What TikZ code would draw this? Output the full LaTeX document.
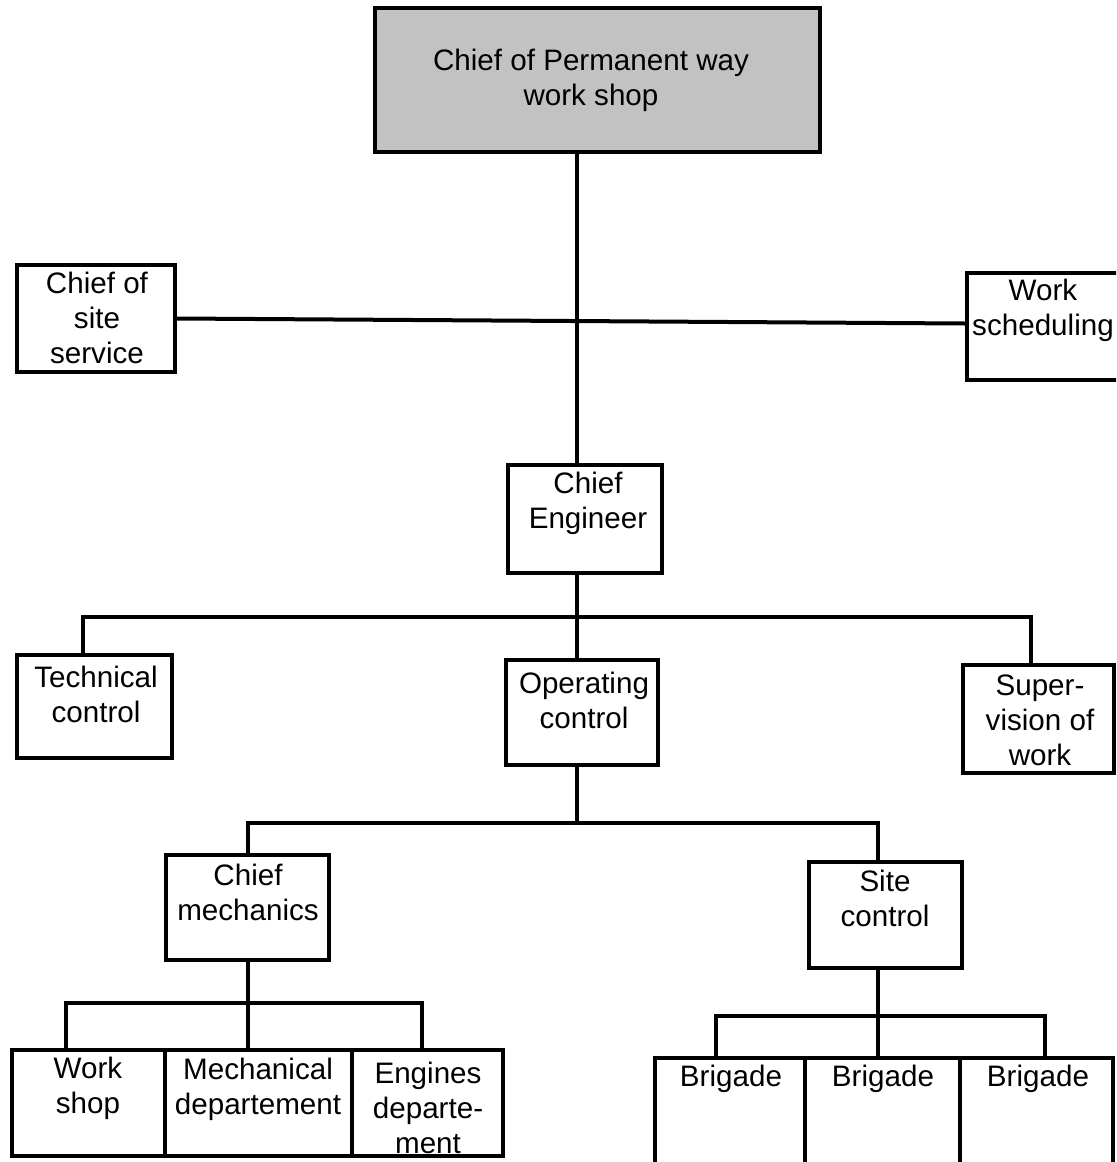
\documentclass[tikz,border=0pt]{standalone}
\usepackage{fontspec}
\setmainfont{Liberation Sans}
\begin{document}
\begin{tikzpicture}[x=0.5pt,y=-0.5pt,
  box/.style={draw, line width=2pt, inner sep=0pt},
  txt/.style={align=center, inner sep=0pt, font=\fontsize{14.8}{17.5}\selectfont},
  wire/.style={line width=2pt}]
% box from its corners: name, left, top, right, bottom (pixel units)
\newcommand\orgbox[6][]{%
  \node[box, #1, minimum width={(#5-#3)*0.5pt}, minimum height={(#6-#4)*0.5pt}]
    (#2) at ({(#3+#5)/2},{(#4+#6)/2}) {};}
\useasboundingbox (0,0) rectangle (1116,1162);
\clip (0,0) rectangle (1116,1162);

% boxes
\orgbox[fill=black!24]{chief}{375}{8}{820}{152}
\orgbox{css}{17}{265}{175}{372}
\orgbox{ws}{967}{273}{1125}{380}
\orgbox{ce}{508}{465}{662}{573}
\orgbox{tc}{17}{655}{172}{758}
\orgbox{oc}{506}{660}{658}{765}
\orgbox{sv}{963}{665}{1114}{773}
\orgbox{cm}{166}{855}{329}{960}
\orgbox{sc}{809}{862}{962}{968}
\orgbox{wsh}{12}{1050}{165}{1156}
\orgbox{md}{165}{1050}{352}{1156}
\orgbox{ed}{352}{1050}{503}{1156}
\orgbox{bg1}{655}{1058}{805}{1175}
\orgbox{bg2}{805}{1058}{960}{1175}
\orgbox{bg3}{960}{1058}{1113}{1175}

% labels
\node[txt] (chief-t) at (591,80) {Chief of Permanent way\\work shop};
\node[txt] (css-t) at (97,318) {Chief of\\site\\service};
\node[txt] (ws-t) at (1043,310) {Work\\scheduling};
\node[txt] (ce-t) at (588,503) {Chief\\Engineer};
\node[txt] (tc-t) at (96,694) {Technical\\control};
\node[txt] (oc-t) at (584,700) {Operating\\control};
\node[txt] (sv-t) at (1040,720) {Super-\\vision of\\work};
\node[txt] (cm-t) at (248,892) {Chief\\mechanics};
\node[txt] (sc-t) at (885,898) {Site\\control};
\node[txt] (wsh-t) at (88,1088) {Work\\shop};
\node[txt] (md-t) at (258,1089) {Mechanical\\departement};
\node[txt] (ed-t) at (428,1108) {Engines\\departe-\\ment};
\node[txt] (bg1-t) at (731,1079) {Brigade};
\node[txt] (bg2-t) at (883,1079) {Brigade};
\node[txt] (bg3-t) at (1038,1079) {Brigade};

% bus points
\coordinate (bus1) at (577,617);
\coordinate (bus2) at (577,823);
\coordinate (bus3) at (247,1003);
\coordinate (bus4) at (878,1016);

% connectors
\draw[wire] ([xshift=-4pt]ce.north |- chief.south) -- ([xshift=-4pt]ce.north);
\draw[wire] (css.east) -- ([yshift=1.5pt]ws.west);
\draw[wire] ([xshift=-4pt]ce.south) -- ([xshift=-4pt]ce.south |- oc.north);
\draw[wire] ([xshift=-5.75pt]tc.north) |- (bus1) -| ([xshift=-3.75pt]sv.north);
\draw[wire] ([xshift=-2.5pt]oc.south) -- (bus2);
\draw[wire] (cm.north) |- (bus2) -| ([xshift=-3.75pt]sc.north);
\draw[wire] (cm.south) -- (cm.south |- md.north);
\draw[wire] ([xshift=-11.25pt]wsh.north) |- (bus3) -| ([xshift=-2.75pt]ed.north);
\draw[wire] ([xshift=-3.75pt]sc.south) -- ([xshift=-3.75pt]sc.south |- bg2.north);
\draw[wire] ([xshift=-7pt]bg1.north) |- (bus4) -| ([xshift=4.25pt]bg3.north);
\end{tikzpicture}
\end{document}
